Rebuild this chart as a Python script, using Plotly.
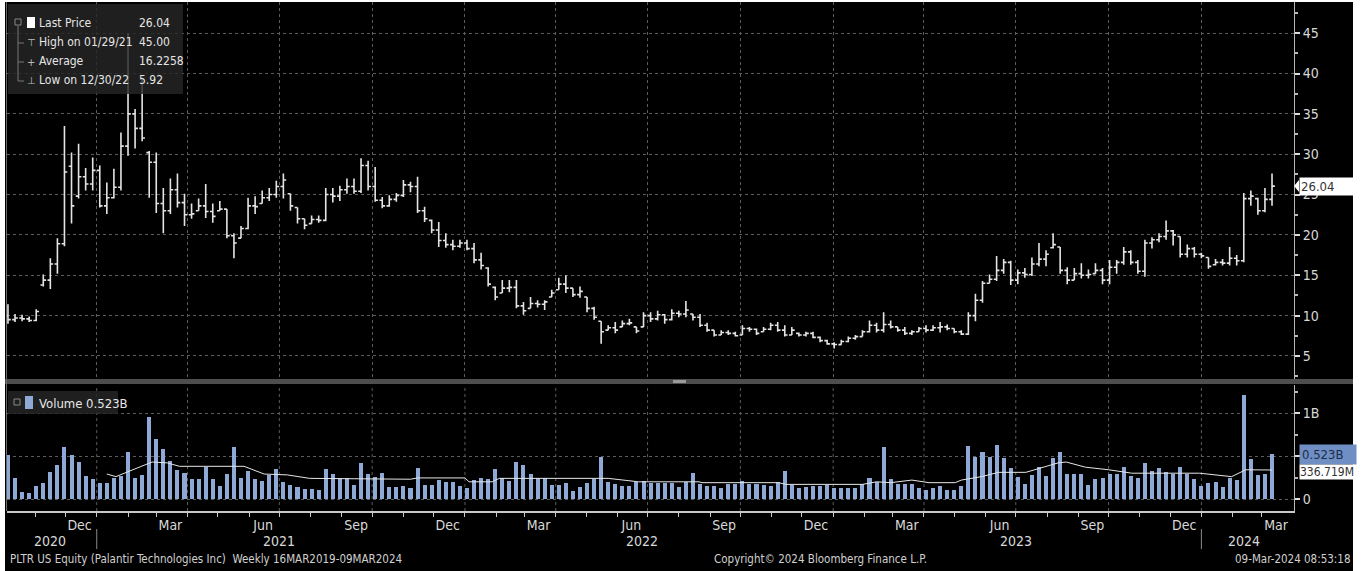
import plotly.graph_objects as go
import pandas as pd

W, H = 1361, 571
FONT = "Liberation Sans Narrow, DejaVu Sans Condensed, Arial Narrow, sans-serif"

# ---------------- data ----------------
WEEK_START = "2020-10-02"   # first weekly bar (Friday)

OPEN = [10.0, 9.5, 9.7, 9.6, 9.4, 13.8, 14.4, 16.4, 18.9, 28.5,
        24.8, 27.2, 26.3, 28.0, 23.6, 24.6, 25.9, 31.0, 35.0, 33.2,
        30.2, 29.0, 23.9, 23.0, 25.6, 24.0, 22.5, 23.0, 23.6, 22.9,
        23.0, 23.2, 19.9, 19.6, 20.8, 23.6, 23.9, 24.6, 25.0, 26.0,
        25.1, 23.4, 22.0, 21.4, 21.9, 21.8, 25.0, 24.8, 25.6, 26.0,
        25.4, 28.6, 26.0, 24.3, 23.6, 24.4, 24.9, 26.2, 26.0, 23.0,
        21.8, 20.6, 19.3, 18.8, 18.6, 19.0, 18.3, 16.9, 15.9, 13.5,
        12.8, 13.4, 13.5, 11.2, 10.9, 11.5, 11.4, 12.3, 13.2, 13.9,
        13.4, 12.6, 12.3, 10.9, 9.3, 8.2, 8.5, 8.6, 9.0, 8.6,
        8.6, 10.0, 9.6, 10.1, 9.5, 10.3, 10.2, 10.2, 9.8, 8.8,
        8.2, 7.6, 7.9, 7.8, 7.6, 8.4, 8.3, 8.0, 8.3, 8.8,
        8.2, 7.6, 7.8, 7.6, 7.8, 7.3, 6.9, 6.5, 6.4, 6.8,
        7.2, 7.4, 8.0, 8.8, 8.2, 8.9, 8.6, 8.2, 7.8, 8.0,
        8.4, 8.2, 8.5, 8.6, 8.4, 8.0, 7.7, 10.0, 11.9, 14.0,
        14.5, 15.6, 16.6, 14.4, 15.3, 15.1, 16.4, 17.0, 18.4, 18.5,
        15.6, 14.4, 15.2, 15.0, 15.2, 15.6, 14.4, 16.0, 16.6, 17.9,
        16.6, 15.5, 19.0, 19.4, 19.8, 20.5, 19.8, 17.6, 18.3, 17.6,
        17.2, 16.3, 16.6, 16.5, 17.1, 16.8, 24.5, 24.5, 23.0, 24.4]
HIGH = [11.4, 10.2, 10.1, 9.9, 10.8, 15.1, 17.1, 19.6, 33.5, 30.2,
        31.3, 28.3, 29.6, 28.6, 26.5, 28.2, 32.7, 45.0, 35.6, 39.5,
        30.4, 30.2, 25.8, 27.0, 27.6, 25.1, 23.9, 24.5, 26.3, 23.9,
        24.2, 23.2, 20.2, 21.1, 24.6, 24.8, 25.5, 25.8, 26.7, 27.6,
        25.1, 23.4, 22.0, 22.4, 22.4, 25.8, 25.8, 26.1, 27.0, 27.0,
        29.5, 29.2, 28.4, 24.7, 24.9, 25.2, 26.8, 26.6, 27.2, 23.5,
        21.9, 21.6, 20.2, 19.4, 19.4, 19.4, 19.0, 17.8, 16.0, 13.6,
        14.4, 14.4, 14.4, 11.7, 12.3, 11.9, 11.9, 13.2, 14.7, 15.0,
        13.4, 13.6, 12.3, 11.1, 9.3, 8.8, 9.2, 9.4, 9.6, 8.6,
        10.4, 10.4, 10.6, 10.2, 10.8, 10.6, 11.8, 10.2, 10.2, 9.1,
        8.2, 8.2, 8.2, 8.0, 8.8, 8.6, 8.4, 8.6, 9.1, 9.2,
        8.8, 8.6, 7.9, 8.0, 8.0, 7.4, 7.0, 6.7, 7.0, 7.4,
        7.6, 8.2, 9.4, 9.1, 10.4, 9.4, 8.6, 8.6, 8.2, 8.6,
        8.8, 8.8, 9.2, 8.9, 8.4, 8.2, 10.4, 12.7, 14.3, 15.1,
        17.4, 17.0, 16.8, 15.7, 15.9, 17.2, 19.0, 18.1, 20.2, 18.5,
        16.0, 15.9, 16.5, 15.7, 16.5, 15.9, 16.9, 16.9, 18.5, 18.1,
        16.9, 19.4, 19.7, 20.2, 21.8, 20.6, 19.8, 18.8, 18.5, 17.8,
        17.2, 17.0, 17.0, 18.5, 17.5, 25.2, 25.5, 24.6, 25.8, 27.6]
LOW = [9.0, 9.2, 9.3, 9.2, 9.3, 13.6, 13.3, 15.2, 18.6, 21.4,
       24.5, 25.5, 25.5, 23.4, 22.6, 24.5, 25.5, 29.8, 30.7, 31.6,
       24.6, 22.7, 20.2, 22.6, 23.4, 21.1, 22.0, 23.0, 22.1, 21.5,
       23.0, 19.6, 17.1, 19.6, 20.7, 22.6, 23.9, 24.2, 24.6, 24.5,
       23.0, 21.4, 20.7, 21.4, 21.5, 21.7, 24.0, 24.2, 25.1, 25.1,
       25.2, 25.5, 24.1, 23.3, 23.5, 24.1, 24.7, 25.3, 22.7, 21.6,
       20.2, 18.5, 18.4, 18.1, 18.4, 18.1, 16.5, 15.7, 13.6, 11.9,
       12.8, 12.9, 10.9, 10.1, 10.9, 11.0, 10.7, 12.3, 13.2, 12.8,
       12.3, 12.2, 10.4, 9.5, 6.5, 8.2, 7.8, 8.6, 8.8, 7.8,
       8.6, 9.2, 9.4, 9.0, 9.4, 9.8, 9.8, 9.4, 8.6, 8.0,
       7.4, 7.6, 7.6, 7.4, 7.6, 8.0, 7.6, 8.0, 8.2, 8.0,
       7.4, 7.6, 7.4, 7.4, 7.2, 6.7, 6.4, 5.92, 6.4, 6.7,
       7.0, 7.4, 7.9, 7.9, 7.9, 8.4, 8.0, 7.6, 7.6, 8.0,
       7.9, 8.1, 7.9, 8.2, 7.8, 7.6, 7.6, 9.3, 11.6, 14.0,
       14.3, 15.2, 13.8, 13.9, 14.7, 14.9, 16.1, 16.1, 18.3, 15.2,
       13.9, 14.4, 14.6, 14.6, 15.2, 13.9, 13.9, 15.2, 16.3, 16.3,
       15.2, 14.8, 18.3, 19.1, 19.4, 18.7, 17.2, 17.2, 17.2, 17.1,
       15.8, 16.2, 16.2, 16.2, 16.2, 16.6, 23.6, 22.5, 22.8, 23.6]
CLOSE = [9.5, 9.7, 9.6, 9.4, 10.5, 14.4, 16.4, 18.9, 27.8, 23.6,
         27.2, 26.3, 28.0, 23.6, 24.6, 25.9, 31.0, 35.0, 33.2, 32.0,
         29.0, 23.9, 23.0, 25.6, 24.0, 22.5, 22.6, 23.6, 22.9, 22.3,
         23.2, 19.9, 19.0, 20.8, 23.6, 23.5, 24.6, 25.0, 26.0, 26.8,
         23.6, 22.0, 21.2, 21.9, 21.8, 25.0, 24.8, 25.6, 26.0, 25.4,
         28.6, 26.0, 24.3, 23.6, 24.4, 24.9, 26.2, 26.0, 23.0, 22.0,
         20.6, 19.3, 18.8, 18.6, 19.0, 18.3, 16.9, 16.2, 13.9, 12.3,
         13.4, 13.5, 11.2, 10.6, 11.5, 11.4, 11.7, 12.8, 13.9, 13.4,
         12.6, 13.0, 10.9, 9.8, 8.0, 8.5, 8.2, 9.0, 9.1, 8.1,
         10.0, 9.6, 10.1, 9.5, 10.3, 10.2, 10.7, 9.8, 8.8, 8.2,
         7.6, 7.9, 7.8, 7.5, 8.4, 8.3, 7.8, 8.3, 8.8, 8.2,
         7.6, 8.2, 7.6, 7.8, 7.3, 6.9, 6.5, 6.42, 6.8, 7.2,
         7.4, 8.0, 8.8, 8.2, 8.9, 8.6, 8.2, 7.8, 8.0, 8.4,
         8.2, 8.5, 8.6, 8.4, 8.0, 7.7, 10.0, 11.9, 14.0, 14.5,
         15.6, 16.6, 14.4, 15.3, 15.1, 16.4, 17.0, 17.6, 18.8, 15.6,
         14.4, 15.2, 15.0, 15.1, 15.6, 14.4, 16.0, 16.6, 17.9, 16.6,
         15.5, 19.0, 19.4, 19.8, 20.5, 20.0, 17.6, 18.3, 17.6, 17.4,
         16.1, 16.6, 16.5, 17.1, 16.8, 24.5, 24.8, 23.0, 24.4, 26.04]
VOLUME_B = [0.51, 0.24, 0.08, 0.07, 0.15, 0.19, 0.31, 0.39, 0.61, 0.51,
            0.43, 0.27, 0.23, 0.19, 0.19, 0.24, 0.27, 0.55, 0.24, 0.28,
            0.95, 0.70, 0.58, 0.44, 0.34, 0.30, 0.23, 0.23, 0.37, 0.23,
            0.15, 0.29, 0.61, 0.24, 0.33, 0.23, 0.21, 0.28, 0.35, 0.20,
            0.16, 0.14, 0.12, 0.12, 0.10, 0.35, 0.29, 0.24, 0.24, 0.16,
            0.42, 0.29, 0.26, 0.30, 0.14, 0.14, 0.15, 0.13, 0.36, 0.16,
            0.16, 0.22, 0.20, 0.20, 0.15, 0.13, 0.22, 0.24, 0.23, 0.35,
            0.24, 0.21, 0.43, 0.39, 0.29, 0.24, 0.24, 0.16, 0.16, 0.19,
            0.09, 0.14, 0.19, 0.23, 0.49, 0.20, 0.18, 0.15, 0.15, 0.20,
            0.21, 0.19, 0.19, 0.19, 0.19, 0.14, 0.20, 0.30, 0.18, 0.15,
            0.15, 0.13, 0.17, 0.18, 0.21, 0.18, 0.18, 0.16, 0.15, 0.20,
            0.32, 0.16, 0.13, 0.14, 0.15, 0.15, 0.16, 0.13, 0.13, 0.13,
            0.13, 0.18, 0.25, 0.20, 0.61, 0.23, 0.18, 0.18, 0.18, 0.13,
            0.10, 0.13, 0.15, 0.11, 0.11, 0.15, 0.62, 0.49, 0.55, 0.49,
            0.63, 0.48, 0.36, 0.26, 0.17, 0.28, 0.37, 0.27, 0.48, 0.55,
            0.29, 0.29, 0.29, 0.16, 0.23, 0.24, 0.29, 0.29, 0.37, 0.27,
            0.24, 0.42, 0.33, 0.36, 0.31, 0.29, 0.37, 0.29, 0.23, 0.15,
            0.19, 0.20, 0.14, 0.24, 0.22, 1.21, 0.46, 0.28, 0.29, 0.523]

# volume moving-average line: vertices
MA_DATES = ["2021-01-08", "2021-01-17", "2021-02-07", "2021-02-22", "2021-03-09",
            "2021-03-21", "2021-05-24", "2021-06-13", "2021-07-06", "2021-07-28",
            "2021-11-05", "2021-11-12", "2021-12-29", "2022-01-02", "2022-01-25",
            "2022-02-01", "2022-05-11", "2022-05-20", "2022-06-19", "2022-08-18",
            "2022-08-21", "2022-11-05", "2022-11-12", "2023-01-27", "2023-02-10",
            "2023-02-24", "2023-03-17", "2023-04-03", "2023-04-29", "2023-05-05",
            "2023-05-25", "2023-06-11", "2023-07-08", "2023-07-23", "2023-08-09",
            "2023-08-17", "2023-09-05", "2023-09-28", "2023-10-21", "2023-12-27",
            "2024-01-12", "2024-01-28", "2024-02-11", "2024-03-02", "2024-03-08"]
MA_B = [0.29, 0.26, 0.36, 0.43, 0.42, 0.38, 0.38, 0.29, 0.28, 0.24,
        0.23, 0.245, 0.245, 0.20, 0.20, 0.24, 0.24, 0.24, 0.20, 0.20,
        0.19, 0.19, 0.17, 0.17, 0.20, 0.19, 0.22, 0.19, 0.19, 0.22,
        0.26, 0.31, 0.31, 0.36, 0.42, 0.43, 0.37, 0.34, 0.30, 0.30,
        0.28, 0.26, 0.34, 0.34, 0.337]

PRICE_TICKS = [5, 10, 15, 20, 25, 30, 35, 40, 45]
VOL_TICKS = [0, 0.5, 1.0]
VOL_TICKTEXT = ["0", "", "1B"]

QUARTER_STARTS = ["2021-01-01", "2021-04-01", "2021-07-01", "2021-10-01",
                  "2022-01-01", "2022-04-01", "2022-07-01", "2022-10-01",
                  "2023-01-01", "2023-04-01", "2023-07-01", "2023-10-01",
                  "2024-01-01"]
YEAR_SEPARATORS = ["2021-01-01", "2024-01-01"]
MONTH_LABEL_DATES = ["2020-12-15", "2021-03-15", "2021-06-15", "2021-09-15",
                     "2021-12-15", "2022-03-15", "2022-06-15", "2022-09-15",
                     "2022-12-15", "2023-03-15", "2023-06-15", "2023-09-15",
                     "2023-12-15", "2024-03-15"]
MONTH_LABELS = ["Dec", "Mar", "Jun", "Sep", "Dec", "Mar", "Jun", "Sep",
                "Dec", "Mar", "Jun", "Sep", "Dec", "Mar"]
YEAR_LABEL_DATES = ["2020-11-16", "2021-07-01", "2022-06-25", "2023-07-01", "2024-02-12"]
YEAR_LABELS = ["2020", "2021", "2022", "2023", "2024"]

LEGEND_LABELS = ["Last Price", "High on 01/29/21", "Average", "Low on 12/30/22"]
LEGEND_VALUES = ["26.04", "45.00", "16.2258", "5.92"]
LAST_PRICE = 26.04
LAST_VOLUME_TEXT = "0.523B"
MA_LAST_TEXT = "336.719M"
MA_LAST = 0.3367

FOOTER_LEFT = "PLTR US Equity (Palantir Technologies Inc)  Weekly 16MAR2019-09MAR2024"
FOOTER_MID = "Copyright\u00a9 2024 Bloomberg Finance L.P."
FOOTER_RIGHT = "09-Mar-2024 08:53:18"

# ---------------- styling ----------------
BAR_COLOR = "#e4e4e4"
VOL_COLOR = "#8ea9d6"
GRID = "#5c5c5c"
TXT = "#d8d8d8"
GRID_SHIFT_DAYS = -3          # Bloomberg draws its date grid slightly left of the week bars
X_RANGE = ["2020-10-01 01:00", "2024-03-29 19:00"]


def sh(d):
    return (pd.Timestamp(d) + pd.Timedelta(days=GRID_SHIFT_DAYS)).strftime("%Y-%m-%d %H:%M")


def px(x):
    return x / W


def py(y):
    return 1 - y / H


dates = pd.date_range(WEEK_START, periods=len(CLOSE), freq="7D")
month_starts = pd.date_range("2020-11-01", "2024-03-01", freq="MS")

fig = go.Figure()
fig.add_trace(go.Ohlc(
    x=dates, open=OPEN, high=HIGH, low=LOW, close=CLOSE,
    increasing=dict(line=dict(color=BAR_COLOR, width=1.6)),
    decreasing=dict(line=dict(color=BAR_COLOR, width=1.6)),
    tickwidth=0.4, xaxis="x", yaxis="y", showlegend=False, hoverinfo="skip"))
fig.add_trace(go.Bar(
    x=dates, y=VOLUME_B, width=4 * 86400000,
    marker=dict(color=VOL_COLOR, line=dict(width=0)),
    xaxis="x2", yaxis="y2", showlegend=False, hoverinfo="skip"))
fig.add_trace(go.Scatter(
    x=MA_DATES, y=MA_B, mode="lines", line=dict(color="#e6e6e6", width=1),
    xaxis="x2", yaxis="y2", showlegend=False, hoverinfo="skip"))

xdom = [px(7), px(1294)]
tickfont = dict(family=FONT, size=14, color=TXT)

fig.update_layout(
    width=W, height=H, margin=dict(l=0, r=0, t=0, b=0),
    paper_bgcolor="white", plot_bgcolor="black",
    bargap=0, showlegend=False,
    xaxis=dict(domain=xdom, anchor="y", type="date", range=X_RANGE,
               rangeslider=dict(visible=False), showticklabels=False,
               tickmode="array", tickvals=[sh(d) for d in QUARTER_STARTS], ticks="",
               showgrid=True, gridcolor=GRID, griddash="dot", gridwidth=1,
               zeroline=False, showline=False),
    yaxis=dict(domain=[py(379), py(2)], anchor="x", side="right",
               range=[2.144, 48.86], tickmode="array", tickvals=PRICE_TICKS,
               ticks="outside", ticklen=5, tickwidth=2, tickcolor="#dcdcdc",
               tickfont=tickfont, showgrid=True, gridcolor=GRID, griddash="dot",
               zeroline=False, showline=True, linecolor="#b8b8b8", linewidth=1,
               minor=dict(dtick=2.5, tick0=0, ticks="outside", ticklen=3,
                          tickcolor="#b8b8b8", showgrid=False)),
    xaxis2=dict(domain=xdom, anchor="y2", type="date", range=X_RANGE,
                tickmode="array", tickvals=[sh(d) for d in MONTH_LABEL_DATES],
                ticktext=MONTH_LABELS, ticks="", tickfont=tickfont,
                showgrid=False, zeroline=False,
                showline=True, linecolor="#c8c8c8", linewidth=2,
                minor=dict(tickmode="array",
                           tickvals=[sh(d) for d in month_starts],
                           ticks="outside", ticklen=4, tickcolor="#c8c8c8",
                           showgrid=False)),
    yaxis2=dict(domain=[py(511), py(385)], anchor="x2", side="right",
                range=[-0.1395, 1.3256], tickmode="array", tickvals=VOL_TICKS,
                ticktext=VOL_TICKTEXT, ticks="outside", ticklen=5, tickwidth=2,
                tickcolor="#dcdcdc", tickfont=tickfont, showgrid=True,
                gridcolor=GRID, griddash="dot", zeroline=False,
                showline=True, linecolor="#b8b8b8", linewidth=1,
                minor=dict(dtick=0.25, tick0=0, ticks="outside", ticklen=3,
                           tickcolor="#b8b8b8", showgrid=False)),
)

shapes = []
# black frame of the terminal screenshot
shapes.append(dict(type="rect", xref="paper", yref="paper", x0=px(5), x1=px(1353),
                   y0=0, y1=py(2), fillcolor="black", line=dict(width=0), layer="below"))
# vertical dotted grid in the volume panel
for d in QUARTER_STARTS:
    shapes.append(dict(type="line", xref="x2", yref="y2 domain", x0=sh(d), x1=sh(d),
                       y0=0, y1=1, line=dict(color=GRID, width=1, dash="dot"), layer="below"))
# panel separator + grip
shapes.append(dict(type="rect", xref="paper", yref="paper", x0=px(5), x1=px(1353),
                   y0=py(384), y1=py(379), fillcolor="#4e4e4e", line=dict(width=0)))
shapes.append(dict(type="rect", xref="paper", yref="paper", x0=px(673), x1=px(686),
                   y0=py(383), y1=py(380), fillcolor="#9a9a9a", line=dict(width=0)))
# left border line
shapes.append(dict(type="line", xref="paper", yref="paper", x0=px(6.5), x1=px(6.5),
                   y0=py(511), y1=py(2), line=dict(color="#6a6a6a", width=1)))
# year separators
for d in YEAR_SEPARATORS:
    shapes.append(dict(type="line", xref="x2", yref="paper", x0=sh(d), x1=sh(d),
                       y0=py(549), y1=py(529), line=dict(color="#8a8a8a", width=1)))
# price legend box
shapes.append(dict(type="rect", xref="paper", yref="paper", x0=px(8), x1=px(183),
                   y0=py(94), y1=py(4), fillcolor="rgba(38,38,38,0.82)", line=dict(width=0)))
shapes.append(dict(type="line", xref="paper", yref="paper", x0=px(18), x1=px(18),
                   y0=py(81), y1=py(26), line=dict(color="#777", width=1)))
for yy in [43, 62, 81]:
    shapes.append(dict(type="line", xref="paper", yref="paper", x0=px(18), x1=px(24),
                       y0=py(yy), y1=py(yy), line=dict(color="#777", width=1)))
shapes.append(dict(type="rect", xref="paper", yref="paper", x0=px(15), x1=px(21),
                   y0=py(25), y1=py(19), fillcolor="rgba(0,0,0,0)", line=dict(color="#888", width=1)))
shapes.append(dict(type="rect", xref="paper", yref="paper", x0=px(27), x1=px(35),
                   y0=py(28), y1=py(17), fillcolor="white", line=dict(width=0)))
# volume legend box
shapes.append(dict(type="rect", xref="paper", yref="paper", x0=px(8), x1=px(118),
                   y0=py(414), y1=py(391), fillcolor="rgba(38,38,38,0.82)", line=dict(width=0)))
shapes.append(dict(type="rect", xref="paper", yref="paper", x0=px(14), x1=px(20),
                   y0=py(405), y1=py(399), fillcolor="rgba(0,0,0,0)", line=dict(color="#888", width=1)))
shapes.append(dict(type="rect", xref="paper", yref="paper", x0=px(25), x1=px(33),
                   y0=py(409), y1=py(396), fillcolor=VOL_COLOR, line=dict(width=0)))
# notch of the last-price tag
shapes.append(dict(type="path", xref="paper", yref="paper",
                   path=f"M {px(1294)} {py(186)} L {px(1299)} {py(180)} L {px(1299)} {py(192)} Z",
                   fillcolor="white", line=dict(width=0)))
fig.update_layout(shapes=shapes)

ann = []
lf = dict(family=FONT, size=12, color="#e6e6e6")
for k, (lab, val) in enumerate(zip(LEGEND_LABELS, LEGEND_VALUES)):
    yy = 23 + k * 19
    ann.append(dict(xref="paper", yref="paper", x=px(37), y=py(yy), text=lab,
                    showarrow=False, xanchor="left", yanchor="middle", font=lf))
    ann.append(dict(xref="paper", yref="paper", x=px(137), y=py(yy), text=val,
                    showarrow=False, xanchor="left", yanchor="middle", font=lf))
for k, g in enumerate(["\u22a4", "+", "\u22a5"]):
    ann.append(dict(xref="paper", yref="paper", x=px(31), y=py(43 + k * 19), text=g,
                    showarrow=False, xanchor="center", yanchor="middle",
                    font=dict(family="DejaVu Sans", size=10, color="#bbbbbb")))
ann.append(dict(xref="paper", yref="paper", x=px(37), y=py(403), text="Volume " + LAST_VOLUME_TEXT,
                showarrow=False, xanchor="left", yanchor="middle",
                font=dict(family=FONT, size=13, color="#e6e6e6")))
# right-hand value tags
ann.append(dict(xref="paper", yref="y", x=px(1299), y=LAST_PRICE, text=f"{LAST_PRICE:.2f}",
                showarrow=False, xanchor="left", yanchor="middle", bgcolor="white",
                width=52, align="left", borderpad=1,
                font=dict(family=FONT, size=13, color="#333333")))
ann.append(dict(xref="paper", yref="y2", x=px(1299), y=0.523, text=LAST_VOLUME_TEXT,
                showarrow=False, xanchor="left", yanchor="middle", bgcolor="#6f8fc4",
                width=52, align="left", borderpad=2,
                font=dict(family=FONT, size=13, color="#1c2c48")))
ann.append(dict(xref="paper", yref="y2", x=px(1299), y=MA_LAST, text=MA_LAST_TEXT,
                showarrow=False, xanchor="left", yanchor="middle", bgcolor="white",
                width=54, align="left", borderpad=0, yshift=-2,
                font=dict(family=FONT, size=12, color="#333333")))
for d, t in zip(YEAR_LABEL_DATES, YEAR_LABELS):
    ann.append(dict(xref="x2", yref="paper", x=sh(d), y=py(541), text=t, showarrow=False,
                    xanchor="center", yanchor="middle", font=tickfont))
ff = dict(family=FONT, size=11.5, color="#d0d0d0")
ann.append(dict(xref="paper", yref="paper", x=px(8), y=py(559), text=FOOTER_LEFT,
                showarrow=False, xanchor="left", yanchor="middle", font=ff))
ann.append(dict(xref="paper", yref="paper", x=px(712), y=py(559), text=FOOTER_MID,
                showarrow=False, xanchor="left", yanchor="middle", font=ff))
ann.append(dict(xref="paper", yref="paper", x=px(1352), y=py(559), text=FOOTER_RIGHT,
                showarrow=False, xanchor="right", yanchor="middle", font=ff))
fig.update_layout(annotations=ann)

fig.write_html("out.html", config={"displayModeBar": False},
               post_script="document.body.style.margin='0px';")
